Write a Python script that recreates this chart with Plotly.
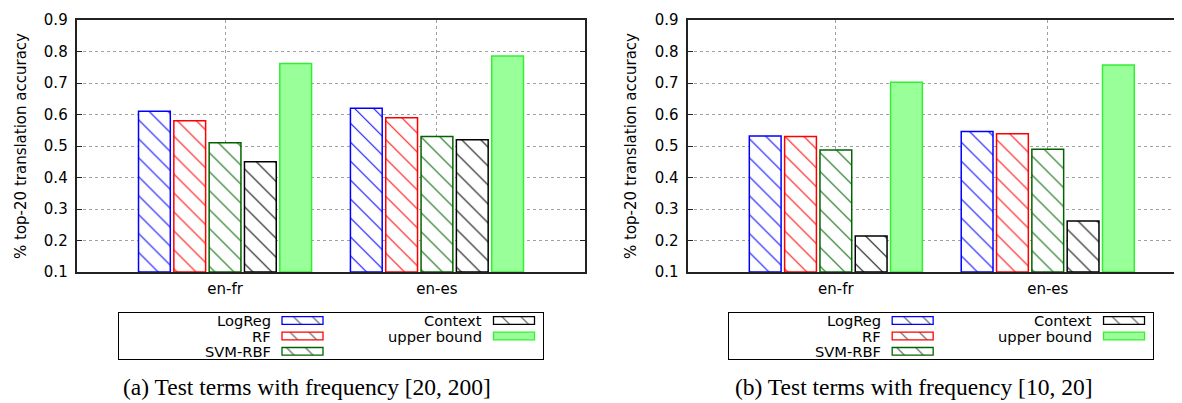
import plotly.graph_objects as go

# ---------------- data ----------------
categories = ["en-fr", "en-es"]
series = ["LogReg", "RF", "SVM-RBF", "Context", "upper bound"]

panel_a = {
    "LogReg": [0.61, 0.62],
    "RF": [0.58, 0.59],
    "SVM-RBF": [0.51, 0.53],
    "Context": [0.45, 0.52],
    "upper bound": [0.762, 0.786],
}
panel_b = {
    "LogReg": [0.532, 0.546],
    "RF": [0.530, 0.539],
    "SVM-RBF": [0.487, 0.490],
    "Context": [0.214, 0.262],
    "upper bound": [0.702, 0.757],
}
captions = ["(a) Test terms with frequency [20, 200]",
            "(b) Test terms with frequency [10, 20]"]
y_title = "% top-20 translation accuracy"
y_ticks = [0.1, 0.2, 0.3, 0.4, 0.5, 0.6, 0.7, 0.8, 0.9]

# ---------------- styles ----------------
line_colors = {"LogReg": "#0000ff", "RF": "#ff0000", "SVM-RBF": "#006400",
               "Context": "#000000", "upper bound": "#33ee33"}
fill_colors = {"LogReg": "white", "RF": "white", "SVM-RBF": "white",
               "Context": "white", "upper bound": "#99ff99"}
hatch = {"LogReg": "\\", "RF": "\\", "SVM-RBF": "\\", "Context": "\\", "upper bound": ""}

# page body has an 8px margin: figure origin sits at screen (8, 8)
OFF = 8
WIN_W, WIN_H = 1182, 403
W, H = WIN_W - OFF, WIN_H - OFF
FONT = "DejaVu Sans"
AX = "#222222"
TICK_SIZE = 15
HATCH_SIZE = 13.4
HATCH_SOL = 0.075


def px(x):   # screen x -> paper fraction
    return (x - OFF) / W


def py(y):   # screen y -> paper fraction (from bottom)
    return 1 - (y - OFF) / H


fig = go.Figure()

panels = [(panel_a, "x", "y"), (panel_b, "x2", "y2")]
for data, xa, ya in panels:
    for s in series:
        fig.add_trace(go.Bar(
            x=categories, y=[v - 0.1 for v in data[s]], base=0.1,
            xaxis=xa, yaxis=ya, name=s, showlegend=False, hoverinfo="skip",
            marker=dict(color=fill_colors[s],
                        line=dict(color=line_colors[s], width=1.5),
                        pattern=dict(shape=hatch[s], fgcolor=line_colors[s],
                                     bgcolor=fill_colors[s], size=HATCH_SIZE,
                                     solidity=HATCH_SOL, fgopacity=1)),
        ))

# ---------------- legend boxes (auxiliary axes in pixel units) ----------------
LEG_W, LEG_H = 424, 46.6
rows = [7.8, 23.3, 38.6]
col_label_right = [153.7, 365.0]
col_swatch_start = [163.0, 374.5]
SW_LEN, SW_TH = 41, 7.6
leg_slots = [(0, 0), (0, 1), (0, 2), (1, 0), (1, 1)]  # (column,row) per series

for xa, ya in [("x3", "y3"), ("x4", "y4")]:
    fig.add_trace(go.Bar(
        orientation="h",
        y=[rows[r] for c, r in leg_slots],
        x=[SW_LEN] * len(series),
        base=[col_swatch_start[c] for c, r in leg_slots],
        width=SW_TH, xaxis=xa, yaxis=ya, showlegend=False, hoverinfo="skip",
        marker=dict(color=[fill_colors[s] for s in series],
                    line=dict(color=[line_colors[s] for s in series], width=1.3),
                    pattern=dict(shape=[hatch[s] for s in series],
                                 fgcolor=[line_colors[s] for s in series],
                                 bgcolor=[fill_colors[s] for s in series],
                                 size=HATCH_SIZE, solidity=HATCH_SOL, fgopacity=1)),
    ))
    for s, (c, r) in zip(series, leg_slots):
        fig.add_annotation(x=col_label_right[c], y=rows[r], xref=xa, yref=ya,
                           text=s, showarrow=False, xanchor="right",
                           yanchor="middle",
                           font=dict(family=FONT, size=14.7, color="black"))

# ---------------- layout ----------------
ydom = [py(272), py(20)]
xdom1 = [px(76.7), px(585.3)]
xdom2 = [px(687.5), 1.0]
right_end = (WIN_W - 835.7) / 212.0   # right panel is cut by the image edge


def xaxis_common(dom, rng):
    return dict(domain=dom, type="category", range=rng, showgrid=True,
                gridcolor="#a0a0a0", griddash="dot", gridwidth=1,
                showline=True, linecolor=AX, linewidth=2, mirror=True,
                ticks="", tickfont=dict(family=FONT, size=TICK_SIZE, color="black"),
                ticklabelstandoff=2, zeroline=False, fixedrange=True,
                automargin=False)


def yaxis_common(anchor, mirror):
    return dict(domain=ydom, anchor=anchor, range=[0.1, 0.9], tickvals=y_ticks,
                tickformat=".1f", showgrid=True, gridcolor="#a0a0a0",
                griddash="dot", gridwidth=1, showline=True, linecolor=AX,
                linewidth=2, mirror=mirror, ticks="inside", ticklen=5,
                tickcolor=AX, tickfont=dict(family=FONT, size=TICK_SIZE, color="black"),
                ticklabelstandoff=4, zeroline=False, fixedrange=True,
                automargin=False,
                title=dict(text=y_title, standoff=14,
                           font=dict(family=FONT, size=TICK_SIZE, color="black")))


leg_y = [py(359.3), py(312.7)]


def leg_axes(dom_x):
    xa = dict(domain=dom_x, range=[0, LEG_W], showgrid=False, zeroline=False,
              showticklabels=False, ticks="", showline=True, mirror=True,
              linecolor="black", linewidth=1.3, fixedrange=True, automargin=False)
    ya = dict(domain=leg_y, range=[LEG_H, 0], showgrid=False, zeroline=False,
              showticklabels=False, ticks="", showline=True, mirror=True,
              linecolor="black", linewidth=1.3, fixedrange=True, automargin=False)
    return xa, ya


lx3, ly3 = leg_axes([px(119), px(543)])
lx4, ly4 = leg_axes([px(729.3), px(1153)])
lx3["anchor"] = "y3"; ly3["anchor"] = "x3"
lx4["anchor"] = "y4"; ly4["anchor"] = "x4"

fig.update_layout(
    width=W, height=H, margin=dict(l=0, r=0, t=0, b=0),
    paper_bgcolor="white", plot_bgcolor="white",
    barmode="group", bargap=1 / 6, bargroupgap=0.1,
    xaxis=dict(**xaxis_common(xdom1, [-0.7, 1.7]), anchor="y"),
    yaxis=yaxis_common("x", "ticks"),
    xaxis2=dict(**xaxis_common(xdom2, [-0.7, right_end]), anchor="y2"),
    yaxis2=yaxis_common("x2", False),
    xaxis3=lx3, yaxis3=ly3, xaxis4=lx4, yaxis4=ly4,
)

for txt, cx in zip(captions, [307.2, 914.3]):
    fig.add_annotation(x=px(cx), y=py(387), xref="paper", yref="paper",
                       text=txt, showarrow=False, xanchor="center",
                       yanchor="middle",
                       font=dict(family="Liberation Serif", size=23.5, color="black"))

fig.write_html("out.html")
